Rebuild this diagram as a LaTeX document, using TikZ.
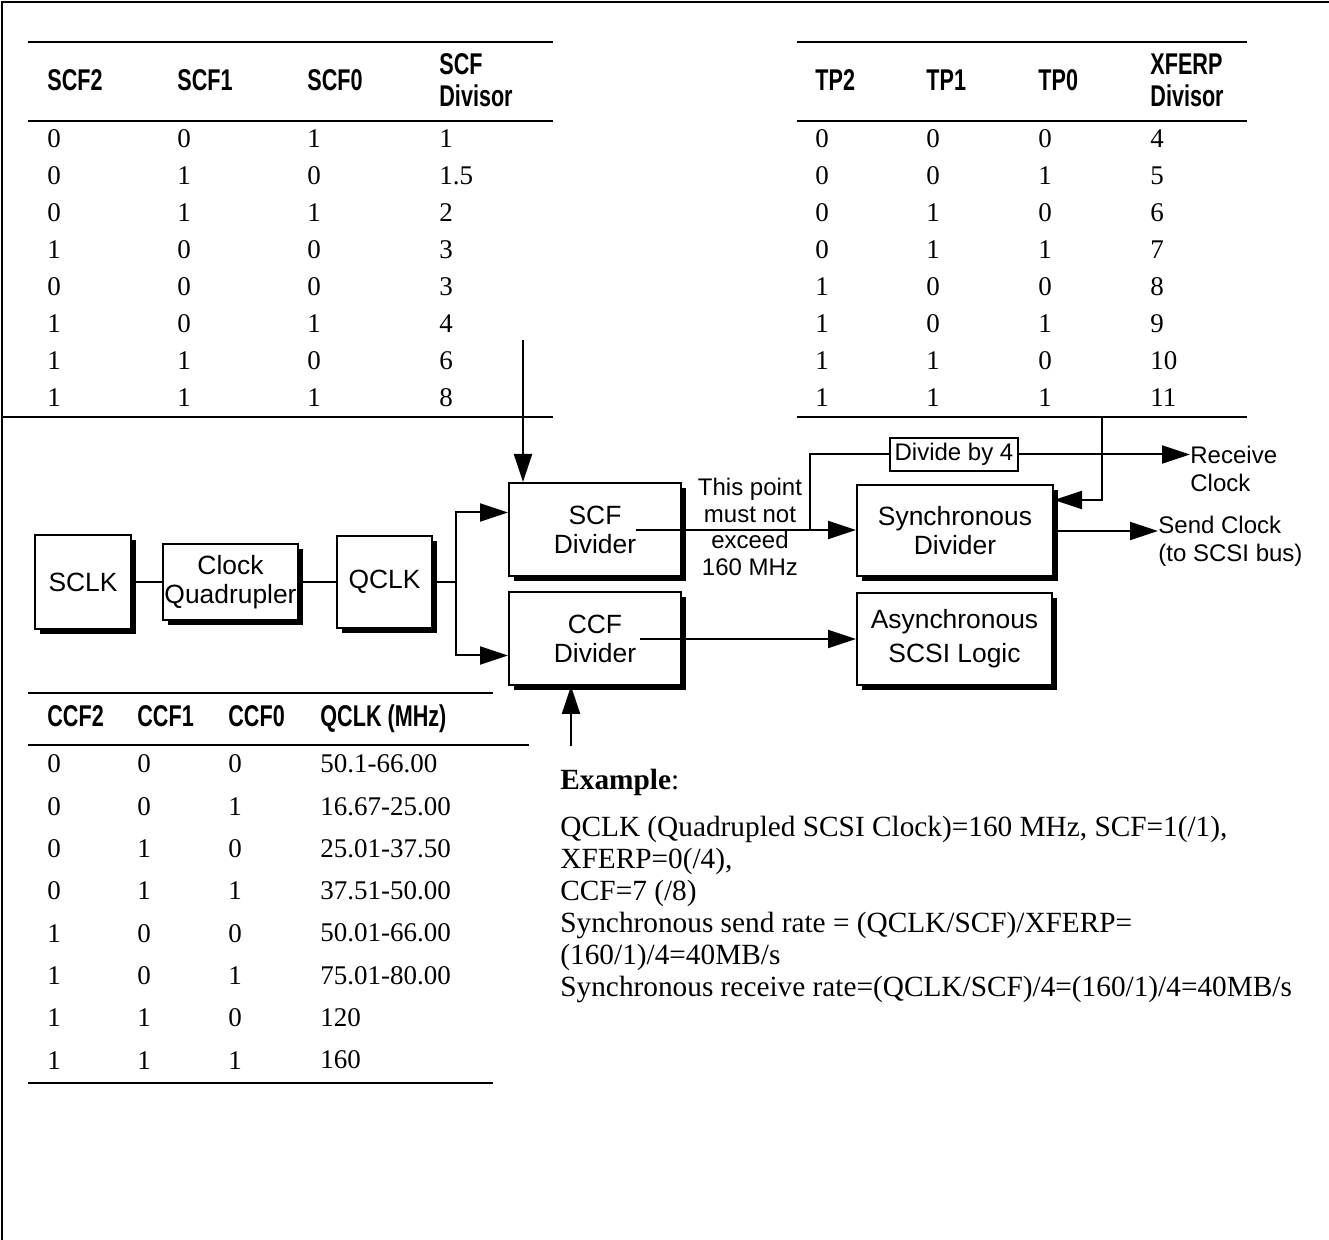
\documentclass[tikz,border=0pt]{standalone}
\usepackage{fontspec}
\setmainfont{Liberation Serif}
\newfontfamily\blockfont{Liberation Sans}
\newfontfamily\headfont[FakeStretch=0.72]{Liberation Sans}
\usetikzlibrary{arrows.meta}
\usetikzlibrary{shadows}
\usetikzlibrary{calc}

\begin{document}
\begin{tikzpicture}[
            x=0.5pt, y=-0.5pt,
            rule/.style={line width=1pt},
            colhead/.style={
                anchor=west,
                align=left,
                inner sep=0pt,
                font=\headfont\bfseries\fontsize{15}{16}\selectfont
            },
            cell/.style={
                anchor=west,
                inner sep=0pt,
                font=\fontsize{13.5}{16}\selectfont
            },
            block/.style={
                draw,
                fill=white,
                line width=1pt,
                inner sep=0pt,
                align=center,
                font=\blockfont\fontsize{13.2}{14.5}\selectfont,
                drop shadow={shadow xshift=2.5pt, shadow yshift=-2.5pt, fill=black, opacity=1}
            },
            sidetext/.style={
                inner sep=0pt,
                align=left,
                font=\blockfont\fontsize{12}{14}\selectfont
            },
            wire/.style={line width=1pt},
            flow/.style={line width=1pt, -{Triangle[length=14pt, width=9pt]}}
        ]
        \useasboundingbox (0,0) rectangle (1329,1240);
        \draw[line width=0.8pt] (1329,2) -- (2,2) -- (2,1240);

        % SCF divisor table
        \draw[rule] (28,42) -- (553,42) (28,121) -- (553,121) (2,417) -- (553,417);
        \node[colhead] (scfhc) at (47,80) {SCF2};
        \node[colhead] (scfhb) at (177,80) {SCF1};
        \node[colhead] (scfha) at (307,80) {SCF0};
        \node[colhead] (scfhd) at (439,80) {SCF\\Divisor};
        \foreach \c/\b/\a/\d [count=\i] in {0/0/1/1, 0/1/0/1.5, 0/1/1/2, 1/0/0/3, 0/0/0/3, 1/0/1/4, 1/1/0/6, 1/1/1/8} {
            \node[cell] (scfc\i) at (47,102+37*\i) {\c};
            \node[cell] (scfb\i) at (177,102+37*\i) {\b};
            \node[cell] (scfa\i) at (307,102+37*\i) {\a};
            \node[cell] (scfd\i) at (439,102+37*\i) {\d};
        }

        % XFERP divisor table
        \draw[rule] (797,42) -- (1247,42) (797,121) -- (1247,121) (797,417) -- (1247,417);
        \node[colhead] (tphc) at (815,80) {TP2};
        \node[colhead] (tphb) at (926,80) {TP1};
        \node[colhead] (tpha) at (1038,80) {TP0};
        \node[colhead] (tphd) at (1150,80) {XFERP\\Divisor};
        \foreach \c/\b/\a/\d [count=\i] in {0/0/0/4, 0/0/1/5, 0/1/0/6, 0/1/1/7, 1/0/0/8, 1/0/1/9, 1/1/0/10, 1/1/1/11} {
            \node[cell] (tpc\i) at (815,102+37*\i) {\c};
            \node[cell] (tpb\i) at (926,102+37*\i) {\b};
            \node[cell] (tpa\i) at (1038,102+37*\i) {\a};
            \node[cell] (tpd\i) at (1150,102+37*\i) {\d};
        }

        % CCF table
        \draw[rule] (28,693) -- (493,693) (28,745) -- (529,745) (28,1083) -- (493,1083);
        \node[colhead] (ccfhc) at (47,716) {CCF2};
        \node[colhead] (ccfhb) at (137,716) {CCF1};
        \node[colhead] (ccfha) at (228,716) {CCF0};
        \node[colhead, anchor=base west] (ccfhd) at (320,727) {QCLK (MHz)};
        \foreach \c/\b/\a/\d [count=\i] in {0/0/0/50.1-66.00, 0/0/1/16.67-25.00, 0/1/0/25.01-37.50, 0/1/1/37.51-50.00, 1/0/0/50.01-66.00, 1/0/1/75.01-80.00, 1/1/0/120, 1/1/1/160} {
            \node[cell] (ccfc\i) at (47,721.7+42.3*\i) {\c};
            \node[cell] (ccfb\i) at (137,721.7+42.3*\i) {\b};
            \node[cell] (ccfa\i) at (228,721.7+42.3*\i) {\a};
            \node[cell] (ccfd\i) at (320,721.7+42.3*\i) {\d};
        }

        % clock path
        \node[block, minimum width=48pt, minimum height=47pt] (sclk) at (83,582) {SCLK};
        \node[block, minimum width=67.5pt, minimum height=38pt] (quad) at (230.5,582) {Clock\\Quadrupler};
        \node[block, minimum width=47.5pt, minimum height=46pt] (qclk) at (384.5,582) {QCLK};
        \node[block, minimum width=86pt, minimum height=46.5pt] (scf) at (595,529.5) {SCF\\Divider};
        \node[block, minimum width=86pt, minimum height=46.5pt] (ccf) at (595,638.5) {CCF\\Divider};
        \node[block, minimum width=98pt, minimum height=45.5pt] (sync) at (955,531) {Synchronous\\Divider};
        \node[block, minimum width=97.5pt, minimum height=46pt,
              font=\blockfont\fontsize{13.2}{17}\selectfont] (async) at (954.5,639) {Asynchronous\\SCSI Logic};
        \node[draw, fill=white, line width=0.8pt, sidetext, minimum width=64pt, minimum height=16.5pt] (div4) at (954,454.5) {Divide by 4};
        \node[sidetext, align=center, font=\blockfont\fontsize{12}{13.3}\selectfont] (limit) at (750,527) {This point\\must not\\exceed\\160 MHz};
        \node[sidetext, anchor=west] (rxclk) at (1190,469) {Receive\\Clock};
        \node[sidetext, anchor=west] (txclk) at (1158,541) {Send Clock\\(to SCSI bus)};

        \draw[wire] (sclk) -- (quad);
        \draw[wire] (quad) -- (qclk);
        \coordinate (fork) at (456,582);
        \draw[wire] (qclk) -- (fork);
        \draw[flow] (fork) |- ($(scf.west)+(0,-17)$);
        \draw[flow] (fork) |- ($(ccf.west)+(0,17)$);
        \coordinate (scfin) at (523,340);
        \draw[flow] (scfin) -- (scfin |- scf.north);
        \coordinate (ccfin) at (571,746);
        \draw[flow] (ccfin) -- (ccfin |- ccf.south);
        \coordinate (scfout) at (636,530);
        \draw[flow] (scfout) -- (scfout -| sync.west);
        \coordinate (tap) at (810,530);
        \draw[wire] (tap) |- (div4.west);
        \draw[flow] (div4.east) -- (div4.east -| rxclk.west);
        \coordinate (tpin) at (1102,417);
        \draw[flow] (tpin) |- ($(sync.east)+(0,-31)$);
        \draw[flow] (sync.east) -- (sync.east -| txclk.west);
        \coordinate (ccfout) at (640,639);
        \draw[flow] (ccfout) -- (ccfout -| async.west);

        % worked example
        \node[anchor=base west, inner sep=0pt, font=\fontsize{14.65}{16}\selectfont] (exhead) at (560,790) {\textbf{Example}:};
        \node[anchor=north west, inner sep=0pt, align=left, font=\fontsize{14.65}{16}\selectfont] (exbody) at (560,816) {QCLK (Quadrupled SCSI Clock)=160 MHz, SCF=1(/1),\\XFERP=0(/4),\\CCF=7 (/8)\\Synchronous send rate = (QCLK/SCF)/XFERP=\\(160/1)/4=40MB/s\\Synchronous receive rate=(QCLK/SCF)/4=(160/1)/4=40MB/s};
        \end{tikzpicture}
\end{document}
